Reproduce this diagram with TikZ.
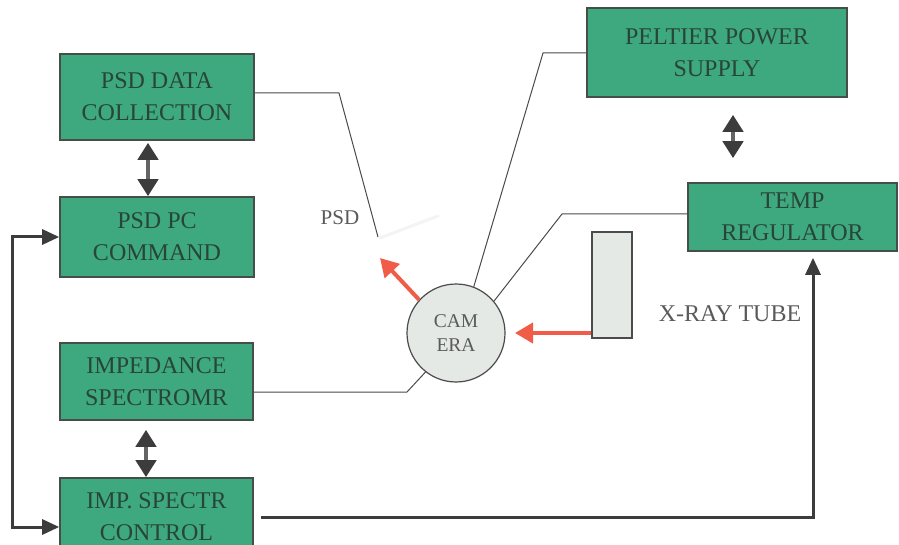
\documentclass[tikz,border=0pt]{standalone}
\usepackage{fontspec}
\setmainfont{Liberation Serif}
\usetikzlibrary{arrows.meta,calc}
\definecolor{boxgreen}{RGB}{62,168,126}
\definecolor{boxline}{RGB}{70,78,74}
\definecolor{boxtext}{RGB}{40,70,56}
\definecolor{darkarr}{RGB}{60,60,60}
\definecolor{shaftgray}{RGB}{100,100,100}
\definecolor{redarr}{RGB}{240,92,72}
\definecolor{labelgray}{RGB}{90,90,90}
\definecolor{thinline}{RGB}{75,75,75}
\definecolor{lightfill}{RGB}{228,233,230}
\begin{document}
\begin{tikzpicture}[x=1pt,y=-1pt,
  box/.style={draw=boxline,line width=1.6pt,fill=boxgreen,text=boxtext,align=center,
    font=\fontsize{24}{32}\selectfont,inner sep=0pt},
  lbl/.style={text=labelgray,inner sep=0pt},
  thinln/.style={draw=thinline,line width=1pt},
  redarrow/.style={draw=redarr,line width=4pt,-{Triangle[width=20pt,length=18pt,color=redarr]}},
  thickarr/.style={draw=darkarr,line width=3pt},
  dbl/.style={draw=shaftgray,line width=4.5pt,
    {Triangle[width=20pt,length=17pt,color=darkarr]}-{Triangle[width=20pt,length=17pt,color=darkarr]}}
]
\fill[white] (0,0) rectangle (899,545);
\useasboundingbox (0,0) rectangle (899,545);
\clip (0,0) rectangle (899,545);

% boxes
\node[box,minimum width=194pt,minimum height=86pt] (pdc) at (157,97) {PSD DATA\\COLLECTION};
\node[box,minimum width=194pt,minimum height=80pt] (ppc) at (157,237) {PSD PC\\COMMAND};
\node[box,minimum width=193pt,minimum height=77pt] (imp) at (156.5,381.5) {IMPEDANCE\\SPECTROMR};
\node[box,minimum width=193pt,minimum height=78pt] (ipc) at (156.5,517) {IMP. SPECTR\\CONTROL};
\node[box,minimum width=260pt,minimum height=89pt] (pps) at (717,52.5) {PELTIER POWER\\SUPPLY};
\node[box,minimum width=209pt,minimum height=68pt] (trg) at (792.5,217) {TEMP\\REGULATOR};

% x-ray tube and camera
\node[draw=thinline,line width=1.2pt,fill=lightfill,minimum width=40pt,minimum height=106pt,inner sep=0pt] (xray) at (612,285) {};
\node[circle,draw=thinline,line width=1.2pt,fill=lightfill,minimum size=98pt,inner sep=0pt,
  align=center,text=labelgray,font=\fontsize{19.5}{24}\selectfont] (cam) at (456,333) {CAM\\ERA};

% labels
\node[lbl,font=\fontsize{21}{24}\selectfont] (psdlbl) at (340,218) {PSD};
\node[lbl,font=\fontsize{24}{28}\selectfont] (xlbl) at (730,314) {X-RAY TUBE};

% faint PSD detector
\coordinate (d1) at (380,238);
\coordinate (d2) at (438,216);
\draw[gray!9,line width=3pt,line cap=round] (d1) -- (d2);

% thin signal lines
\coordinate (b1) at (339,93);
\coordinate (psdend) at (378,237);
\draw[thinln] (pdc.east |- b1) -- (b1) -- (psdend);
\coordinate (b2) at (543,53);
\draw[thinln] (pps.west |- b2) -- (b2) -- (cam.69);
\coordinate (b3) at (562,214);
\draw[thinln] (trg.west |- b3) -- (b3) -- (cam.40);
\coordinate (b4) at (407,392);
\draw[thinln] (imp.east |- b4) -- (b4) -- (cam.232);

% red beams
\coordinate (psdtip) at (380,258);
\draw[redarrow] (cam.138) -- (psdtip);
\coordinate (camtip) at (515,333);
\draw[redarrow] (xray.west |- camtip) -- (camtip);

% double arrows
\draw[dbl,shorten <=2pt] ([xshift=-9pt]pdc.south) -- ([xshift=-9pt]ppc.north);
\draw[dbl,shorten <=9pt] ([xshift=-10.5pt]imp.south) -- ([xshift=-10.5pt]ipc.north);
\draw[dbl,shorten <=17pt,shorten >=24pt] ([xshift=16pt]pps.south) -- ([xshift=16pt]pps.south |- trg.north);

% thick control loops
\coordinate (l1) at (12,237);
\coordinate (l2) at (12,527);
\draw[thickarr,{Triangle[width=15pt,length=17pt,color=darkarr]}-{Triangle[width=15pt,length=17pt,color=darkarr]}]
  (ppc.west) -- (l1) -- (l2) -- (ipc.west |- l2);
\coordinate (c1) at (813,517);
\draw[thickarr,-{Triangle[width=15pt,length=17pt,color=darkarr]},shorten <=7pt,shorten >=6pt]
  (ipc.east |- c1) -- (c1) -- (trg.south -| c1);
\end{tikzpicture}
\end{document}
